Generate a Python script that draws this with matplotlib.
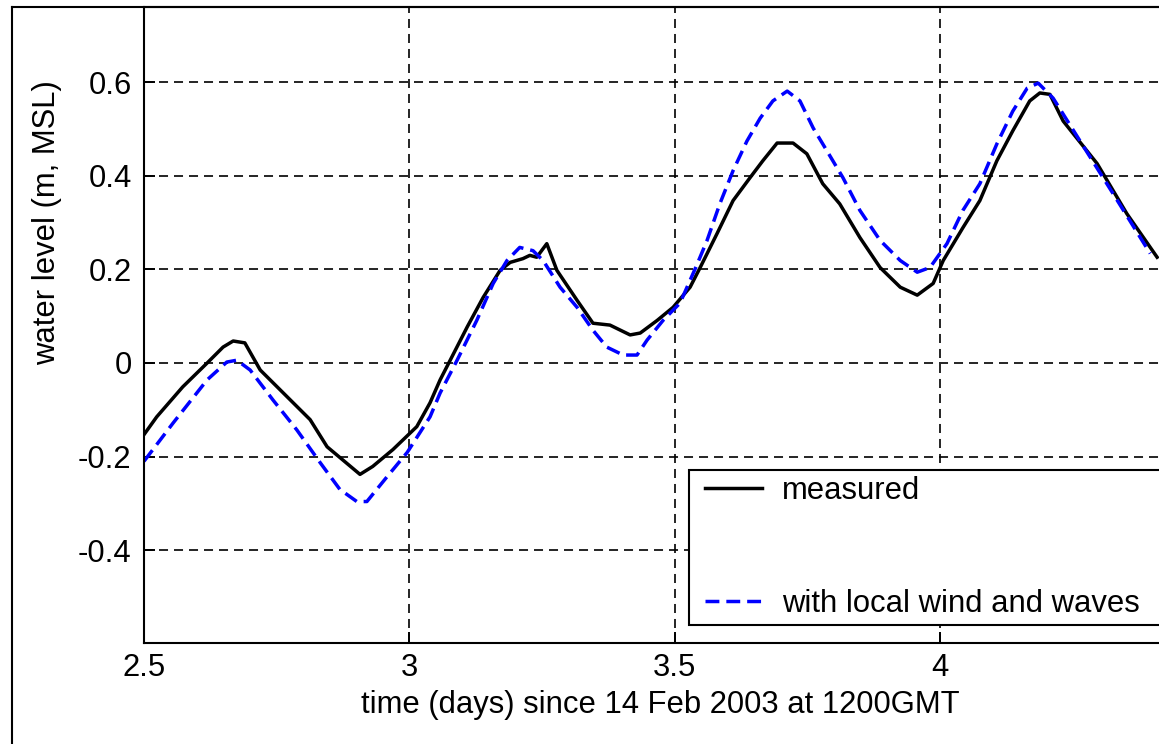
import numpy as np
import matplotlib
matplotlib.use('Agg')
import matplotlib.pyplot as plt
from matplotlib.lines import Line2D
from matplotlib.legend_handler import HandlerLine2D
from matplotlib.ticker import FuncFormatter

plt.rcParams['font.family'] = ['Liberation Sans', 'DejaVu Sans']
plt.rcParams['axes.unicode_minus'] = False
plt.rcParams['lines.scale_dashes'] = False

# measured water level (days since 14 Feb 2003 1200GMT, m MSL)
t_meas = np.array([2.500, 2.524, 2.573, 2.619, 2.649, 2.668, 2.690, 2.719, 2.766, 2.813,
                   2.845, 2.907, 2.931, 2.969, 3.014, 3.039, 3.058, 3.077, 3.109, 3.139,
                   3.171, 3.190, 3.214, 3.227, 3.240, 3.259, 3.278, 3.316, 3.346, 3.378,
                   3.416, 3.435, 3.467, 3.497, 3.529, 3.548, 3.580, 3.610, 3.642, 3.666,
                   3.693, 3.723, 3.749, 3.779, 3.811, 3.849, 3.887, 3.925, 3.957, 3.987,
                   4.006, 4.043, 4.075, 4.107, 4.137, 4.169, 4.188, 4.207, 4.232, 4.296,
                   4.352, 4.409])
wl_meas = np.array([-0.153, -0.115, -0.051, 0.000, 0.034, 0.047, 0.043, -0.015, -0.068, -0.121,
                    -0.179, -0.238, -0.221, -0.185, -0.136, -0.085, -0.036, 0.006, 0.077, 0.140,
                    0.198, 0.215, 0.223, 0.230, 0.226, 0.255, 0.198, 0.134, 0.085, 0.081,
                    0.060, 0.064, 0.091, 0.119, 0.162, 0.204, 0.277, 0.347, 0.396, 0.432,
                    0.470, 0.470, 0.447, 0.383, 0.340, 0.268, 0.204, 0.162, 0.145, 0.170,
                    0.219, 0.289, 0.347, 0.432, 0.496, 0.560, 0.577, 0.574, 0.517, 0.426,
                    0.319, 0.226])

# model with local wind and waves
t_wind = np.array([2.500, 2.555, 2.619, 2.656, 2.675, 2.700, 2.743, 2.788, 2.832, 2.869,
                   2.901, 2.920, 2.958, 2.996, 3.039, 3.058, 3.090, 3.127, 3.158, 3.184,
                   3.208, 3.233, 3.252, 3.284, 3.316, 3.346, 3.372, 3.403, 3.429, 3.448,
                   3.478, 3.510, 3.540, 3.561, 3.585, 3.610, 3.636, 3.661, 3.685, 3.712,
                   3.736, 3.761, 3.787, 3.817, 3.849, 3.887, 3.925, 3.957, 3.981, 4.013,
                   4.043, 4.075, 4.107, 4.137, 4.164, 4.185, 4.213, 4.264, 4.326, 4.396])
wl_wind = np.array([-0.210, -0.128, -0.036, 0.002, 0.006, -0.015, -0.079, -0.143, -0.213, -0.270,
                    -0.296, -0.296, -0.243, -0.191, -0.115, -0.064, 0.006, 0.091, 0.170, 0.219,
                    0.247, 0.240, 0.219, 0.162, 0.119, 0.070, 0.034, 0.017, 0.017, 0.049,
                    0.091, 0.128, 0.205, 0.262, 0.340, 0.411, 0.474, 0.523, 0.560, 0.581,
                    0.560, 0.502, 0.453, 0.396, 0.326, 0.262, 0.219, 0.194, 0.204, 0.255,
                    0.326, 0.383, 0.468, 0.538, 0.587, 0.598, 0.566, 0.474, 0.362, 0.234])

xticks = [2.5, 3, 3.5, 4]
yticks = [-0.4, -0.2, 0, 0.2, 0.4, 0.6]

W, H = 1159, 744
fig = plt.figure(figsize=(W / 100, H / 100), dpi=100)
ax = fig.add_axes([144 / W, (H - 643) / H, 1032 / W, (643 - 7) / H])

ax.plot(t_meas, wl_meas, color='k', lw=2.5, label='measured')
ax.plot(t_wind, wl_wind, color=(0, 0, 1), lw=2.5, dashes=(10, 5),
        label='with local wind and waves')

ax.set_xlim(2.5, 2.5 + 1032 / 530.7)
ax.set_ylim(-(643 - 363) / 468, (363 - 7) / 468)
ax.set_xticks(xticks)
ax.set_yticks(yticks)
fmt = FuncFormatter(lambda v, p: '%g' % v)
ax.xaxis.set_major_formatter(fmt)
ax.yaxis.set_major_formatter(fmt)

ax.grid(True, color='k', lw=1.2, linestyle=(0, (6.5, 4.3)))
ax.tick_params(direction='in', length=8, width=1.4, labelsize=22.3,
               top=False, right=False)
ax.tick_params(axis='x', pad=7)
ax.tick_params(axis='y', pad=9)
for s in ax.spines.values():
    s.set_linewidth(1.5)
ax.spines['right'].set_visible(False)

ax.set_xlabel('time (days) since 14 Feb 2003 at 1200GMT', fontsize=22.3, labelpad=5)
ax.set_ylabel('water level (m, MSL)', fontsize=22.3)
ax.yaxis.set_label_coords((62 - 144) / 1032, (643 - 223) / 636)

leg = ax.legend(loc='lower left',
                bbox_to_anchor=((689 - 144) / 1032, (643 - 625) / 636, (1200 - 689) / 1032, 0.1),
                mode='expand', borderaxespad=0, fontsize=22.3,
                handlelength=2.16, handletextpad=0.65, labelspacing=2.68,
                borderpad=0.2, fancybox=False, framealpha=1, edgecolor='k',
                handler_map={Line2D: HandlerLine2D(xpad=0.32)})
leg.get_frame().set_linewidth(1.5)

# outer frame of the original screenshot
fig.add_artist(Line2D([12 / W, 12 / W], [0, 1 - 7 / H], transform=fig.transFigure, color='k', lw=1.5))
fig.add_artist(Line2D([12 / W, 1], [1 - 7 / H, 1 - 7 / H], transform=fig.transFigure, color='k', lw=1.5))

fig.savefig('out.png', dpi=100)
